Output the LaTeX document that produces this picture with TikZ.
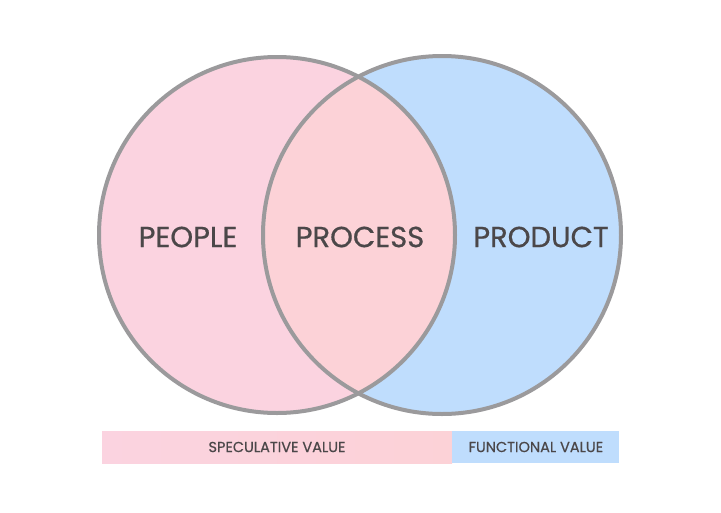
\documentclass[tikz,border=0pt]{standalone}
\usepackage{fontspec}
\setmainfont{Poppins}[FakeBold=0.6]
\definecolor{peoplepink}{HTML}{FBD3E0}
\definecolor{processpink}{HTML}{FCD2D7}
\definecolor{productblue}{HTML}{BFDDFD}
\definecolor{ringgray}{HTML}{9B9A9C}
\definecolor{labelgray}{HTML}{4B4749}
\tikzset{
  ring/.style={draw=ringgray, line width=4pt},
  setlabel/.style={text=labelgray, font=\fontsize{29}{29}\selectfont, inner sep=0pt},
  barbox/.style={minimum height=32pt, inner sep=0pt, text=labelgray, font=\fontsize{14.5}{14.5}\selectfont}
}
\begin{document}
\begin{tikzpicture}[x=1pt, y=-1pt]
  \useasboundingbox (0,0) rectangle (721,512);

  % Fills of the two sets and their overlap
  \fill[peoplepink] (277,235) circle (178pt);
  \fill[productblue] (442,235) circle (179pt);
  \begin{scope}
    \clip (277,235) circle (178pt);
    \fill[processpink] (442,235) circle (179pt);
  \end{scope}

  % Outlines
  \draw[ring] (277,235) circle (178pt);
  \draw[ring] (442,235) circle (179pt);

  % Set labels
  \node[setlabel] (people) at (188,237) {PEOPLE};
  \node[setlabel] (process) at (360,237) {PROCESS};
  \node[setlabel] (product) at (541,237) {PRODUCT};

  % Value bar
  \node[barbox, minimum width=350pt, left color=peoplepink, middle color=peoplepink, right color=processpink] (speculative) at (277,447) {SPECULATIVE VALUE};
  \node[barbox, minimum width=167pt, fill=productblue, anchor=west] (functional) at (speculative.east) {FUNCTIONAL VALUE};

\end{tikzpicture}
\end{document}
